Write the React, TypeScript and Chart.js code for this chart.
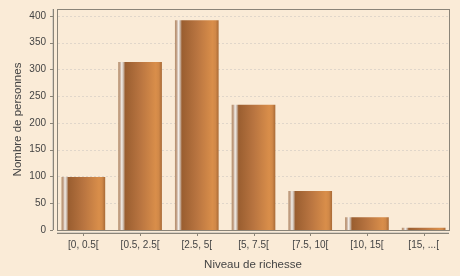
import React, { useEffect, useRef } from "react";
import { Chart, registerables } from "chart.js";

Chart.register(...registerables);

const categories = ["[0, 0.5[", "[0.5, 2.5[", "[2.5, 5[", "[5, 7.5[", "[7.5, 10[", "[10, 15[", "[15, ...["];
const personnes = [99, 314, 392, 234, 73, 24, 4];
const yTickStep = 50;
const yMax = 413;
const xTitle = "Niveau de richesse";
const yTitle = "Nombre de personnes";

const BG = "#FAEBD7";
const TEXT = "#444444";
const FONT = "'Liberation Sans', Arial, sans-serif";
const BAR_PCT = 0.77;
const PLOT_L = 57;
const PLOT_R = 449;

function barGradient(context: any) {
  const chart = context.chart;
  const a = chart.chartArea;
  const xs = chart.scales.x;
  if (!a || !xs || context.dataIndex === undefined) return "#c07a40";
  const cw = (a.right - a.left) / categories.length;
  const cx = xs.getPixelForValue(context.dataIndex);
  const half = (cw * BAR_PCT) / 2;
  const x0 = cx - half;
  const x1 = cx + half;
  const g = chart.ctx.createLinearGradient(x0, 0, x1, 0);
  g.addColorStop(0, "#b48c68");
  g.addColorStop(0.04, "#c4a48c");
  g.addColorStop(0.08, "#f2eee9");
  g.addColorStop(0.12, "#c8b4a4");
  g.addColorStop(0.16, "#9a5e30");
  g.addColorStop(0.5, "#b87440");
  g.addColorStop(0.86, "#d98e4a");
  g.addColorStop(0.93, "#d08848");
  g.addColorStop(1, "#a86a36");
  return g;
}

const decorPlugin = {
  id: "decor",
  beforeDatasetsDraw(chart: any) {
    const ctx = chart.ctx;
    const a = chart.chartArea;
    const ys = chart.scales.y;
    ctx.save();
    ctx.strokeStyle = "#e0d6ca";
    ctx.lineWidth = 1;
    ctx.setLineDash([2, 2]);
    ys.ticks.forEach((t: any) => {
      const py = Math.round(ys.getPixelForValue(t.value)) + 0.5;
      ctx.beginPath();
      ctx.moveTo(PLOT_L + 1, py);
      ctx.lineTo(PLOT_R, py);
      ctx.stroke();
    });
    ctx.setLineDash([]);
    ctx.strokeStyle = "#8a8478";
    ctx.strokeRect(PLOT_L + 0.5, Math.round(a.top) + 0.5, PLOT_R - PLOT_L, Math.round(a.bottom - a.top));
    ctx.restore();
  },
  afterDraw(chart: any) {
    const ctx = chart.ctx;
    const a = chart.chartArea;
    ctx.save();
    ctx.lineWidth = 1;
    // y axis line (offset)
    const yx = PLOT_L - 4;
    ctx.strokeStyle = "#d8d0c4";
    ctx.beginPath();
    ctx.moveTo(yx - 0.5, a.top);
    ctx.lineTo(yx - 0.5, a.bottom);
    ctx.stroke();
    ctx.strokeStyle = "#8a8478";
    ctx.beginPath();
    ctx.moveTo(yx + 0.5, a.top);
    ctx.lineTo(yx + 0.5, a.bottom);
    ctx.stroke();
    const ys = chart.scales.y;
    ys.ticks.forEach((t: any) => {
      const py = Math.round(ys.getPixelForValue(t.value)) + 0.5;
      ctx.beginPath();
      ctx.moveTo(yx - 3, py);
      ctx.lineTo(yx, py);
      ctx.stroke();
    });
    // x axis line (offset)
    const xy = Math.round(a.bottom) + 3;
    ctx.strokeStyle = "#d8d0c4";
    ctx.beginPath();
    ctx.moveTo(PLOT_L, xy - 0.5);
    ctx.lineTo(PLOT_R, xy - 0.5);
    ctx.stroke();
    ctx.strokeStyle = "#8a8478";
    ctx.beginPath();
    ctx.moveTo(PLOT_L, xy + 0.5);
    ctx.lineTo(PLOT_R, xy + 0.5);
    ctx.stroke();
    const xs = chart.scales.x;
    categories.forEach((_c, i) => {
      const px = Math.round(xs.getPixelForValue(i)) + 0.5;
      ctx.beginPath();
      ctx.moveTo(px, xy);
      ctx.lineTo(px, xy + 3);
      ctx.stroke();
    });
    // titles
    ctx.fillStyle = TEXT;
    ctx.font = `11.5px ${FONT}`;
    ctx.textAlign = "center";
    ctx.textBaseline = "middle";
    ctx.fillText(xTitle, (PLOT_L + PLOT_R) / 2, 265);
    ctx.translate(18, (a.top + a.bottom) / 2);
    ctx.rotate(-Math.PI / 2);
    ctx.fillText(yTitle, 0, 0);
    ctx.restore();
  },
};

export default function App() {
  const ref = useRef<HTMLCanvasElement>(null);
  useEffect(() => {
    document.body.style.margin = "0";
    document.body.style.background = BG;
    const chart = new Chart(ref.current!, {
      type: "bar",
      data: {
        labels: categories,
        datasets: [
          {
            data: personnes,
            backgroundColor: barGradient,
            borderWidth: 0,
            barPercentage: BAR_PCT,
            categoryPercentage: 1,
          },
        ],
      },
      options: {
        animation: false,
        responsive: false,
        maintainAspectRatio: false,
        layout: { padding: { left: 0, top: 9, right: 8, bottom: 0 } },
        plugins: { legend: { display: false }, tooltip: { enabled: false } },
        scales: {
          x: {
            grid: { display: false, drawTicks: false },
            border: { display: false },
            ticks: { color: TEXT, font: { size: 10, family: FONT }, padding: 9, maxRotation: 0, autoSkip: false },
            afterFit(scale: any) {
              scale.height = 46;
              scale.paddingLeft = 0;
              scale.paddingRight = 0;
            },
          },
          y: {
            min: 0,
            max: yMax,
            grid: { display: false, drawTicks: false },
            border: { display: false },
            ticks: { stepSize: yTickStep, includeBounds: false, color: TEXT, font: { size: 10, family: FONT }, padding: 9 },
            afterFit(scale: any) {
              scale.width = 55;
              scale.paddingTop = 0;
              scale.paddingBottom = 0;
            },
          },
        },
      },
      plugins: [decorPlugin],
    });
    return () => chart.destroy();
  }, []);
  return (
    <div style={{ width: 460, height: 276, background: BG }}>
      <canvas ref={ref} width={460} height={276} style={{ display: "block" }} />
    </div>
  );
}
